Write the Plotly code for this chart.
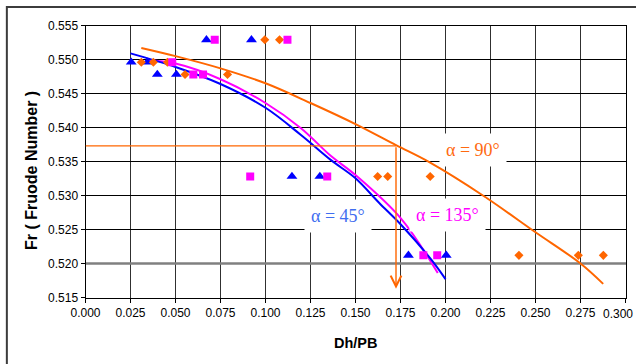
import plotly.graph_objects as go

# ---- data ----
# scatter points: alpha = 45 (blue triangles)
x45 = [0.0254, 0.0343, 0.0399, 0.0505, 0.0672, 0.0922, 0.1147, 0.1302, 0.1794, 0.2004]
y45 = [0.5496, 0.5496, 0.5478, 0.5478, 0.5529, 0.5529, 0.5328, 0.5328, 0.5212, 0.5212]
# alpha = 90 (orange diamonds)
x90 = [0.0310, 0.0377, 0.0455, 0.0553, 0.0789, 0.0996, 0.1078, 0.1623, 0.1679, 0.1915, 0.2408, 0.2738, 0.2877]
y90 = [0.5496, 0.5496, 0.5496, 0.5478, 0.5478, 0.5529, 0.5529, 0.5328, 0.5328, 0.5328, 0.5212, 0.5212, 0.5212]
# alpha = 135 (magenta squares)
x135 = [0.0482, 0.0599, 0.0653, 0.0718, 0.1122, 0.0915, 0.1343, 0.1877, 0.1954]
y135 = [0.5496, 0.5478, 0.5478, 0.5529, 0.5529, 0.5328, 0.5328, 0.5212, 0.5212]

# trend curves
cx90 = [0.031, 0.050, 0.075, 0.100, 0.125, 0.150, 0.1725, 0.191, 0.2208, 0.250, 0.275, 0.2876]
cy90 = [0.5517, 0.5505, 0.5487, 0.5465, 0.5436, 0.5405, 0.5374, 0.5349, 0.5300, 0.5246, 0.5200, 0.5170]
cx45 = [0.025, 0.050, 0.075, 0.100, 0.1197, 0.1364, 0.1497, 0.1632, 0.1753, 0.192, 0.200]
cy45 = [0.5509, 0.5489, 0.5464, 0.5429, 0.5389, 0.5352, 0.5326, 0.5289, 0.5257, 0.5206, 0.5177]
cx135 = [0.0343, 0.050, 0.075, 0.100, 0.1197, 0.1364, 0.150, 0.1753, 0.1957]
cy135 = [0.5499, 0.5494, 0.5471, 0.5436, 0.5399, 0.5358, 0.5330, 0.5266, 0.5186]

# axis ticks
x_ticks = [0.000, 0.025, 0.050, 0.075, 0.100, 0.125, 0.150, 0.175, 0.200, 0.225, 0.250, 0.275, 0.300]
y_ticks = [0.515, 0.520, 0.525, 0.530, 0.535, 0.540, 0.545, 0.550, 0.555]
grey_grid_value = 0.520

# guide (reading) line
guide_x = 0.1725
guide_fr = 0.5373
guide_end = 0.5163

labels = ["α = 45°", "α = 90°", "α = 135°"]
label_x = [0.1403, 0.2154, 0.2009]
label_y = [0.5270, 0.5367, 0.5272]
label_col = ["#3F6DF0", "#FF6A10", "#FF00FF"]

BLUE = "#0000FF"
ORANGE = "#FF6600"
MAGENTA = "#FF00FF"

fig = go.Figure()

fig.add_trace(go.Scatter(x=cx90, y=cy90, mode="lines", line=dict(color=ORANGE, width=2, shape="spline"), hoverinfo="skip"))
fig.add_trace(go.Scatter(x=cx135, y=cy135, mode="lines", line=dict(color=MAGENTA, width=2, shape="spline"), hoverinfo="skip"))
fig.add_trace(go.Scatter(x=cx45, y=cy45, mode="lines", line=dict(color=BLUE, width=2, shape="spline"), hoverinfo="skip"))

fig.add_trace(go.Scatter(x=x45, y=y45, mode="markers",
                         marker=dict(symbol="triangle-up", size=9.5, color=BLUE)))
fig.add_trace(go.Scatter(x=x90, y=y90, mode="markers",
                         marker=dict(symbol="diamond", size=7, color=ORANGE)))
fig.add_trace(go.Scatter(x=x135, y=y135, mode="markers",
                         marker=dict(symbol="square", size=8, color=MAGENTA)))

# grid lines (drawn from the tick arrays)
for v in x_ticks[1:-1]:
    fig.add_shape(type="line", xref="x", x0=v, x1=v, yref="paper", y0=0, y1=1,
                  line=dict(color="#303030", width=1), layer="below")
for v in y_ticks[1:-1]:
    if abs(v - grey_grid_value) < 1e-9:
        continue
    fig.add_shape(type="line", xref="paper", x0=0, x1=1, yref="y", y0=v, y1=v,
                  line=dict(color="black", width=1), layer="below")
fig.add_shape(type="line", xref="paper", x0=0, x1=1, yref="y", y0=grey_grid_value, y1=grey_grid_value,
              line=dict(color="#808080", width=2.5), layer="below")

# horizontal guide line
fig.add_shape(type="line", xref="x", x0=0, x1=guide_x, yref="y", y0=guide_fr, y1=guide_fr,
              line=dict(color=ORANGE, width=1.3), layer="above")
# vertical guide arrow
fig.add_annotation(x=guide_x, y=guide_end, ax=guide_x, ay=guide_fr, xref="x", yref="y",
                   axref="x", ayref="y", text="", showarrow=True, arrowhead=5,
                   arrowsize=1.5, arrowwidth=1.4, arrowcolor=ORANGE)

for t, lx, ly, c in zip(labels, label_x, label_y, label_col):
    fig.add_annotation(x=lx, y=ly, xref="x", yref="y", text=t, showarrow=False,
                       font=dict(family="Liberation Serif, Times New Roman, serif", size=18, color=c),
                       bgcolor="white", borderpad=6)

# outer chart frame
fig.add_shape(type="rect", xref="paper", yref="paper",
              x0=(7 - 85) / 540, x1=1.3, y0=-0.6, y1=1 + 18 / 272,
              line=dict(color="#3c3c3c", width=2), fillcolor="rgba(0,0,0,0)", layer="above")

# last x tick label, kept inside the right edge of the picture
fig.add_annotation(text=f"{x_ticks[-1]:.3f}", xref="paper", yref="paper", x=(635 - 85) / 541,
                   y=(297.5 - 313.5) / 272, showarrow=False, xanchor="right", yanchor="middle",
                   font=dict(size=12, color="black"))

# axis titles
fig.add_annotation(text="<b>Fr ( Fruode Number )</b>", xref="paper", yref="paper",
                   x=(31 - 85) / 540, y=(297.5 - 170) / 272, textangle=-90, showarrow=False,
                   font=dict(size=16, color="black"), xanchor="center", yanchor="middle")
fig.add_annotation(text="<b>Dh/PB</b>", xref="paper", yref="paper",
                   x=(355 - 85) / 540, y=(297.5 - 342) / 272, showarrow=False,
                   font=dict(size=14.5, color="black"), xanchor="center", yanchor="middle")

fig.update_layout(
    width=636, height=364, showlegend=False,
    paper_bgcolor="white", plot_bgcolor="white",
    margin=dict(l=85, r=10, t=25, b=66),
    font=dict(family="Liberation Sans, Arial, sans-serif", color="black"),
    xaxis=dict(range=[0, 0.3], tickmode="array", tickvals=x_ticks,
               ticktext=[f"{v:.3f}" for v in x_ticks[:-1]] + [""],
               domain=[0.5 / 541, 540.5 / 541],
               showgrid=False, zeroline=False, automargin=False,
               showline=True, linecolor="black", linewidth=1, mirror=True,
               ticks="outside", ticklen=4, tickcolor="black",
               tickfont=dict(size=12, color="black")),
    yaxis=dict(range=[0.515, 0.555], tickmode="array", tickvals=y_ticks,
               ticktext=[f"{v:.3f}" for v in y_ticks], domain=[0.5 / 273, 272.5 / 273],
               showgrid=False, zeroline=False, automargin=False,
               showline=True, linecolor="black", linewidth=1, mirror=True,
               ticks="outside", ticklen=4, tickcolor="black",
               tickfont=dict(size=12, color="black")),
)

fig.write_html("out.html", config={"displayModeBar": False},
               post_script="document.body.style.margin='0';document.body.style.overflow='hidden';")
